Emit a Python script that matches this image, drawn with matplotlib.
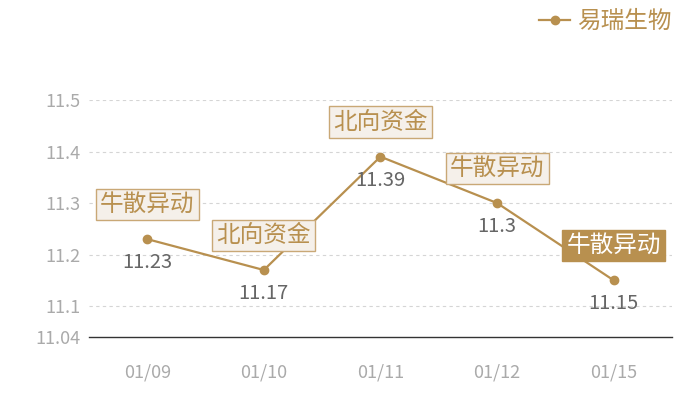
import matplotlib
matplotlib.use('Agg')
import matplotlib.pyplot as plt

plt.rcParams['font.family'] = ['Noto Sans CJK SC', 'DejaVu Sans']

# data
dates = ['01/09', '01/10', '01/11', '01/12', '01/15']
prices = [11.23, 11.17, 11.39, 11.30, 11.15]
tags = ['牛散异动', '北向资金', '北向资金', '牛散异动', '牛散异动']
highlight = [False, False, False, False, True]
series_name = '易瑞生物'
yticks = [11.04, 11.1, 11.2, 11.3, 11.4, 11.5]

gold = '#b8904f'

fig = plt.figure(figsize=(7, 4), dpi=100)
ax = fig.add_axes([0.127, 0.1575, 0.833, 0.5925])

x = list(range(len(dates)))
ax.plot(x, prices, color=gold, lw=1.6, marker='o', ms=6, label=series_name, zorder=3)

for i, (p, t, h) in enumerate(zip(prices, tags, highlight)):
    # value label under the point
    ax.annotate(f'{p:g}', (i, p), xytext=(0, -17), textcoords='offset points',
                ha='center', va='center', fontsize=14.5, color='#666666', zorder=4)
    # event tag above the point
    if h:
        box = dict(boxstyle='square,pad=0.18', fc=gold, ec=gold, lw=1)
        tc = 'white'
    else:
        box = dict(boxstyle='square,pad=0.18', fc='#f5f0ea', ec='#c9a876', lw=1)
        tc = gold
    ax.annotate(t, (i, p), xytext=(0, 25), textcoords='offset points',
                ha='center', va='center', fontsize=17, color=tc, bbox=box,
                zorder=5, annotation_clip=False)

ax.set_xlim(-0.5, len(dates) - 0.5)
ax.set_ylim(11.04, 11.5)
ax.set_xticks(x)
ax.set_xticklabels(dates)
ax.set_yticks(yticks)
ax.set_yticklabels([f'{v:g}' for v in yticks])
ax.tick_params(axis='both', length=0, labelsize=13, colors='#aaaaaa')
ax.tick_params(axis='x', pad=19)
ax.tick_params(axis='y', pad=6)

for v in yticks[1:]:
    ax.axhline(v, color='#d5d5d5', lw=0.8, ls=(0, (3, 3)), zorder=1)

for s in ['top', 'right', 'left']:
    ax.spines[s].set_visible(False)
ax.spines['bottom'].set_color('#333333')
ax.spines['bottom'].set_linewidth(1)

leg = ax.legend(loc='upper right', bbox_to_anchor=(0.99, 1.028),
                bbox_transform=fig.transFigure, frameon=False,
                handlelength=1.3, handletextpad=0.3, fontsize=17)
for txt in leg.get_texts():
    txt.set_color(gold)

fig.savefig('out.png', dpi=100)
